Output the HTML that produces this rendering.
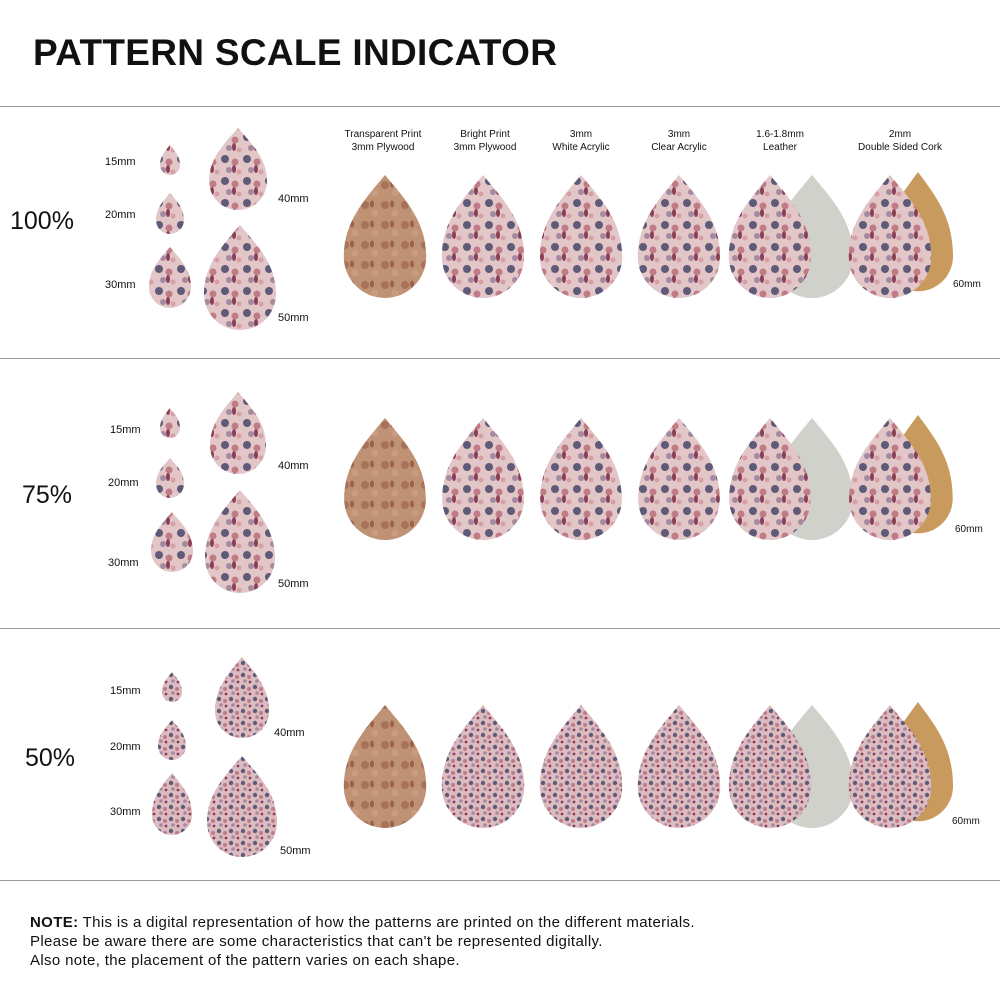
<!DOCTYPE html>
<html><head><meta charset="utf-8"><style>
html,body{margin:0;padding:0;background:#fff;}
body{width:1000px;height:1000px;position:relative;overflow:hidden;font-family:"Liberation Sans",sans-serif;color:#111;}
.t{position:absolute;white-space:nowrap;}
.hr{position:absolute;left:0;width:1000px;height:1px;background:#9a9a9a;}
</style></head><body>
<div class="t" style="left:33px;top:32px;font-size:37px;font-weight:bold;letter-spacing:0.3px;">PATTERN SCALE INDICATOR</div>
<div class="hr" style="top:106px"></div>
<div class="hr" style="top:358px"></div>
<div class="hr" style="top:628px"></div>
<div class="hr" style="top:880px"></div>
<svg id="s" width="1000" height="1000" style="position:absolute;left:0;top:0">
<defs>
<pattern id="p1" width="22" height="22" patternUnits="userSpaceOnUse">
<rect width="22" height="22" fill="#e2c6c8"/>
<circle cx="5" cy="5" r="4" fill="#5f5a78"/><circle cx="15" cy="8" r="3.5" fill="#c07c86"/>
<circle cx="9" cy="16" r="3" fill="#a48aa0"/><circle cx="19" cy="18" r="2.5" fill="#d4a0a6"/>
<ellipse cx="14" cy="15" rx="2" ry="4" fill="#8a3f55"/>
</pattern>
<pattern id="p2" width="12" height="12" patternUnits="userSpaceOnUse">
<rect width="12" height="12" fill="#dcbcc0"/>
<circle cx="3" cy="3" r="2.2" fill="#5f5a78"/><circle cx="9" cy="5" r="2" fill="#c07c86"/>
<circle cx="5" cy="9" r="1.8" fill="#a48aa0"/><circle cx="10" cy="10" r="1.4" fill="#8a3f55"/>
</pattern>
<pattern id="pw" width="20" height="20" patternUnits="userSpaceOnUse">
<rect width="20" height="20" fill="#bf9276"/>
<circle cx="5" cy="5" r="4" fill="#a87258"/><circle cx="15" cy="13" r="3.5" fill="#c99c80"/><ellipse cx="12" cy="4" rx="2" ry="3.5" fill="#9c6248"/>
</pattern>
</defs>
</svg>
<script>
const svg=document.getElementById('s');
function drop(cx,top,w,h,fill,name){
  const r=w/2,p=document.createElementNS('http://www.w3.org/2000/svg','path');
  const d=`M ${cx} ${top} C ${cx-r*0.5} ${top+h*0.2}, ${cx-r} ${top+h*0.38}, ${cx-r} ${top+h-r} A ${r} ${r} 0 0 0 ${cx+r} ${top+h-r} C ${cx+r} ${top+h*0.38}, ${cx+r*0.5} ${top+h*0.2}, ${cx} ${top} Z`;
  p.setAttribute('d',d);p.setAttribute('fill',fill);
  
  
  svg.appendChild(p);
}
function label(x,y,txt,size,name,center){
  const d=document.createElement('div');d.className='t';d.textContent=txt;
  d.style.left=x+'px';d.style.top=y+'px';d.style.fontSize=size+'px';
  if(center){d.style.transform='translateX(-50%)';d.style.textAlign='center';}
  
  
  document.body.appendChild(d);
}
const sections=[
 {pct:'100%',px:10,py:207,pat:'url(#p1)',
  small:[[170,145,20,30],[170,193,28,41],[170,247,42,61],[238,128,58,82],[240,225,72,105]],
  labels:[[105,156],[105,209],[105,279],[278,193],[278,312]],big:[175,123],mm60:[953,279]},
 {pct:'75%',px:22,py:481,pat:'url(#p1)',
  small:[[170,408,20,30],[170,458,28,40],[172,512,42,60],[238,392,56,82],[240,490,70,103]],
  labels:[[110,424],[108,477],[108,557],[278,460],[278,578]],big:[418,122],mm60:[955,524]},
 {pct:'50%',px:25,py:744,pat:'url(#p2)',
  small:[[172,672,20,30],[172,720,28,40],[172,773,40,62],[242,657,54,81],[242,756,70,101]],
  labels:[[110,685],[110,741],[110,806],[274,727],[280,845]],big:[705,123],mm60:[952,816]}
];
const sizes=['15mm','20mm','30mm','40mm','50mm'];
sections.forEach((s,i)=>{
  label(s.px,s.py,s.pct,25,'scale-'+s.pct.replace('%','pct'),false);
  s.small.forEach((d,j)=>{drop(d[0],d[1],d[2],d[3],s.pat,'small-drop-'+sizes[j]);});
  s.labels.forEach((l,j)=>label(l[0],l[1],sizes[j],11,'size-label-'+sizes[j],false));
  const [t,h]=s.big,w=h*0.67;
  drop(385,t,w,h,'url(#pw)','plywood-transparent-drop');
  drop(483,t,w,h,s.pat,'plywood-bright-drop');
  drop(581,t,w,h,s.pat,'white-acrylic-drop');
  drop(679,t,w,h,s.pat,'clear-acrylic-drop');
  drop(812,t,w,h,'#cfd1ca','leather-back-drop');
  drop(770,t,w,h,s.pat,'leather-drop');
  drop(918,t-3,w*0.85,h*0.97,'#c99a5e','cork-back-drop');
  drop(890,t,w,h,s.pat,'cork-drop');
  label(s.mm60[0],s.mm60[1],'60mm',10,'size-label-60mm',false);
});
const heads=[[383,'Transparent Print','3mm Plywood'],[485,'Bright Print','3mm Plywood'],[581,'3mm','White Acrylic'],[679,'3mm','Clear Acrylic'],[780,'1.6-1.8mm','Leather'],[900,'2mm','Double Sided Cork']];
heads.forEach(h=>{label(h[0],129,h[1],10,'material-header',true);label(h[0],142,h[2],10,'material-header-sub',true);});
</script>
<div class="t" style="left:30px;top:913px;font-size:15px;letter-spacing:0.35px;line-height:19px;">
<b>NOTE:</b> This is a digital representation of how the patterns are printed on the different materials.<br>
Please be aware there are some characteristics that can't be represented digitally.<br>
Also note, the placement of the pattern varies on each shape.</div>
</body></html>
